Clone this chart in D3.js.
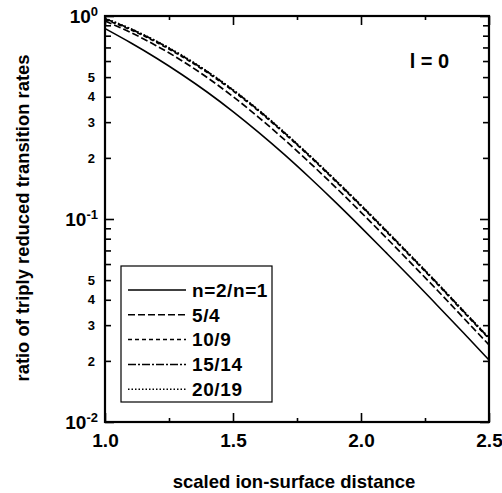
<!DOCTYPE html>
<html>
<head>
<meta charset="utf-8">
<script src="https://cdn.jsdelivr.net/npm/d3@7"></script>
<style>
  html, body { margin: 0; padding: 0; background: #fff; }
  svg { display: block; }
  text { font-family: "Liberation Sans", Arial, Helvetica, sans-serif; font-weight: bold; fill: #000; }
</style>
</head>
<body>
<svg id="chart" width="502" height="493"></svg>
<script>
// Scaled ion-surface distance (x) and rate ratios (y, log scale)
const distance = [1.0, 1.1, 1.2, 1.3, 1.4, 1.5, 1.6, 1.7, 1.8, 1.9, 2.0, 2.1, 2.2, 2.3, 2.4, 2.5];
const ratioN2N1  = [0.867, 0.738, 0.621, 0.515, 0.421, 0.338, 0.267, 0.208, 0.1596, 0.1211, 0.0910, 0.0679, 0.0505, 0.0373, 0.0275, 0.0202];
const ratio5_4   = [0.944, 0.830, 0.7145, 0.6026, 0.4966, 0.4009, 0.3170, 0.2466, 0.1892, 0.1436, 0.1079, 0.0805, 0.0598, 0.0443, 0.0326, 0.0240];
const ratio10_9  = [0.961, 0.855, 0.743, 0.632, 0.526, 0.4276, 0.340, 0.2643, 0.2028, 0.1538, 0.1157, 0.0863, 0.0641, 0.0475, 0.0349, 0.0257];
const ratio15_14 = [0.970, 0.863, 0.750, 0.638, 0.531, 0.4315, 0.343, 0.2667, 0.2046, 0.1552, 0.1167, 0.0871, 0.0647, 0.0479, 0.0352, 0.0259];
const ratio20_19 = [0.974, 0.866, 0.753, 0.641, 0.533, 0.4332, 0.344, 0.2678, 0.2054, 0.1558, 0.1172, 0.0874, 0.0650, 0.0481, 0.0353, 0.0260];

const seriesLabels = ["n=2/n=1", "5/4", "10/9", "15/14", "20/19"];
const seriesValues = [ratioN2N1, ratio5_4, ratio10_9, ratio15_14, ratio20_19];
const seriesDash = ["none", "7,3", "4,3", "8,2,2,2", "1.5,2"];

const xTicks = [1.0, 1.5, 2.0, 2.5];
const xMinorTicks = [1.25, 1.75, 2.25];
const yMajorTicks = [1, 0.1, 0.01];
const yMajorExponents = ["0", "-1", "-2"];
const yLabeledMinor = [0.5, 0.4, 0.3, 0.2, 0.05, 0.04, 0.03, 0.02];

const annotation = "l = 0";
const xTitle = "scaled ion-surface distance";
const yTitle = "ratio of triply reduced transition rates";

const margin = { left: 105, top: 16, right: 13, bottom: 71 };
const W = 502, H = 493;
const iw = W - margin.left - margin.right;
const ih = H - margin.top - margin.bottom;

const svg = d3.select("#chart");
const g = svg.append("g").attr("transform", `translate(${margin.left},${margin.top})`);

const x = d3.scaleLinear().domain([1.0, 2.5]).range([0, iw]);
const y = d3.scaleLog().domain([0.01, 1]).range([ih, 0]);

// all minor decade ticks (2..9 in each decade)
const yMinor = [];
[0.01, 0.1].forEach(d => { for (let k = 2; k <= 9; k++) yMinor.push(+(d * k).toPrecision(3)); });

function styleAxis(sel) {
  sel.select(".domain").remove();
  sel.selectAll(".tick line").attr("stroke", "#000").attr("stroke-width", 1.6);
}

// left axis: major ticks with 10^n labels
const leftMajor = g.append("g")
  .call(d3.axisLeft(y).tickValues(yMajorTicks).tickSize(-9).tickPadding(7).tickFormat(""))
  .call(styleAxis);
leftMajor.selectAll(".tick text").each(function(d, i) {
  const t = d3.select(this).attr("font-size", 19).attr("dy", "0.36em");
  t.append("tspan").text("10");
  t.append("tspan").attr("font-size", 13).attr("dy", "-0.55em").text(yMajorExponents[i]);
});

// left axis: minor ticks
g.append("g")
  .call(d3.axisLeft(y).tickValues(yMinor).tickSize(-6).tickFormat(""))
  .call(styleAxis);
// labels on selected minor ticks
g.append("g")
  .call(d3.axisLeft(y).tickValues(yLabeledMinor).tickSize(0).tickPadding(10)
    .tickFormat(d => String(Math.round(d / Math.pow(10, Math.floor(Math.log10(d) + 1e-9))))))
  .call(styleAxis)
  .selectAll(".tick text").attr("font-size", 13);

// right axis ticks
g.append("g").attr("transform", `translate(${iw},0)`)
  .call(d3.axisRight(y).tickValues(yMajorTicks).tickSize(-9).tickFormat(""))
  .call(styleAxis);
g.append("g").attr("transform", `translate(${iw},0)`)
  .call(d3.axisRight(y).tickValues(yMinor).tickSize(-6).tickFormat(""))
  .call(styleAxis);

// bottom axis
g.append("g").attr("transform", `translate(0,${ih})`)
  .call(d3.axisBottom(x).tickValues(xTicks).tickSize(-9).tickPadding(12).tickFormat(d3.format(".1f")))
  .call(styleAxis)
  .selectAll(".tick text").attr("font-size", 19).attr("dy", "0.71em");
g.append("g").attr("transform", `translate(0,${ih})`)
  .call(d3.axisBottom(x).tickValues(xMinorTicks).tickSize(-4).tickFormat(""))
  .call(styleAxis);

// top axis
g.append("g")
  .call(d3.axisTop(x).tickValues(xTicks).tickSize(-9).tickFormat(""))
  .call(styleAxis);
g.append("g")
  .call(d3.axisTop(x).tickValues(xMinorTicks).tickSize(-4).tickFormat(""))
  .call(styleAxis);

// frame
g.append("rect").attr("x", 0).attr("y", 0).attr("width", iw).attr("height", ih)
  .attr("fill", "none").attr("stroke", "#000").attr("stroke-width", 2.2);

// curves
const line = d3.line()
  .x((d, i) => x(distance[i]))
  .y(d => y(d))
  .curve(d3.curveMonotoneX);

seriesValues.forEach((vals, i) => {
  g.append("path")
    .attr("d", line(vals))
    .attr("fill", "none")
    .attr("stroke", "#000")
    .attr("stroke-width", i === 0 ? 1.6 : 1.7)
    .attr("stroke-dasharray", seriesDash[i]);
});

// annotation
g.append("text")
  .attr("x", x(2.19)).attr("y", y(0.555))
  .attr("font-size", 20)
  .text(annotation);

// legend
const legend = svg.append("g");
legend.append("rect")
  .attr("x", 121).attr("y", 266).attr("width", 151).attr("height", 136)
  .attr("fill", "#fff").attr("stroke", "#000").attr("stroke-width", 1.2);
seriesLabels.forEach((lab, i) => {
  const ry = 290 + i * 24.8;
  legend.append("line")
    .attr("x1", 128).attr("x2", 186).attr("y1", ry).attr("y2", ry)
    .attr("stroke", "#000").attr("stroke-width", 1.5)
    .attr("stroke-dasharray", seriesDash[i]);
  legend.append("text")
    .attr("x", 192).attr("y", ry).attr("dy", "0.36em")
    .attr("font-size", 19).attr("letter-spacing", 0.6)
    .text(lab);
});

// axis titles
svg.append("text")
  .attr("x", 294).attr("y", 488)
  .attr("text-anchor", "middle").attr("font-size", 18.5)
  .text(xTitle);
svg.append("text")
  .attr("transform", "translate(29,218) rotate(-90)")
  .attr("text-anchor", "middle").attr("font-size", 18.4)
  .text(yTitle);
</script>
</body>
</html>
